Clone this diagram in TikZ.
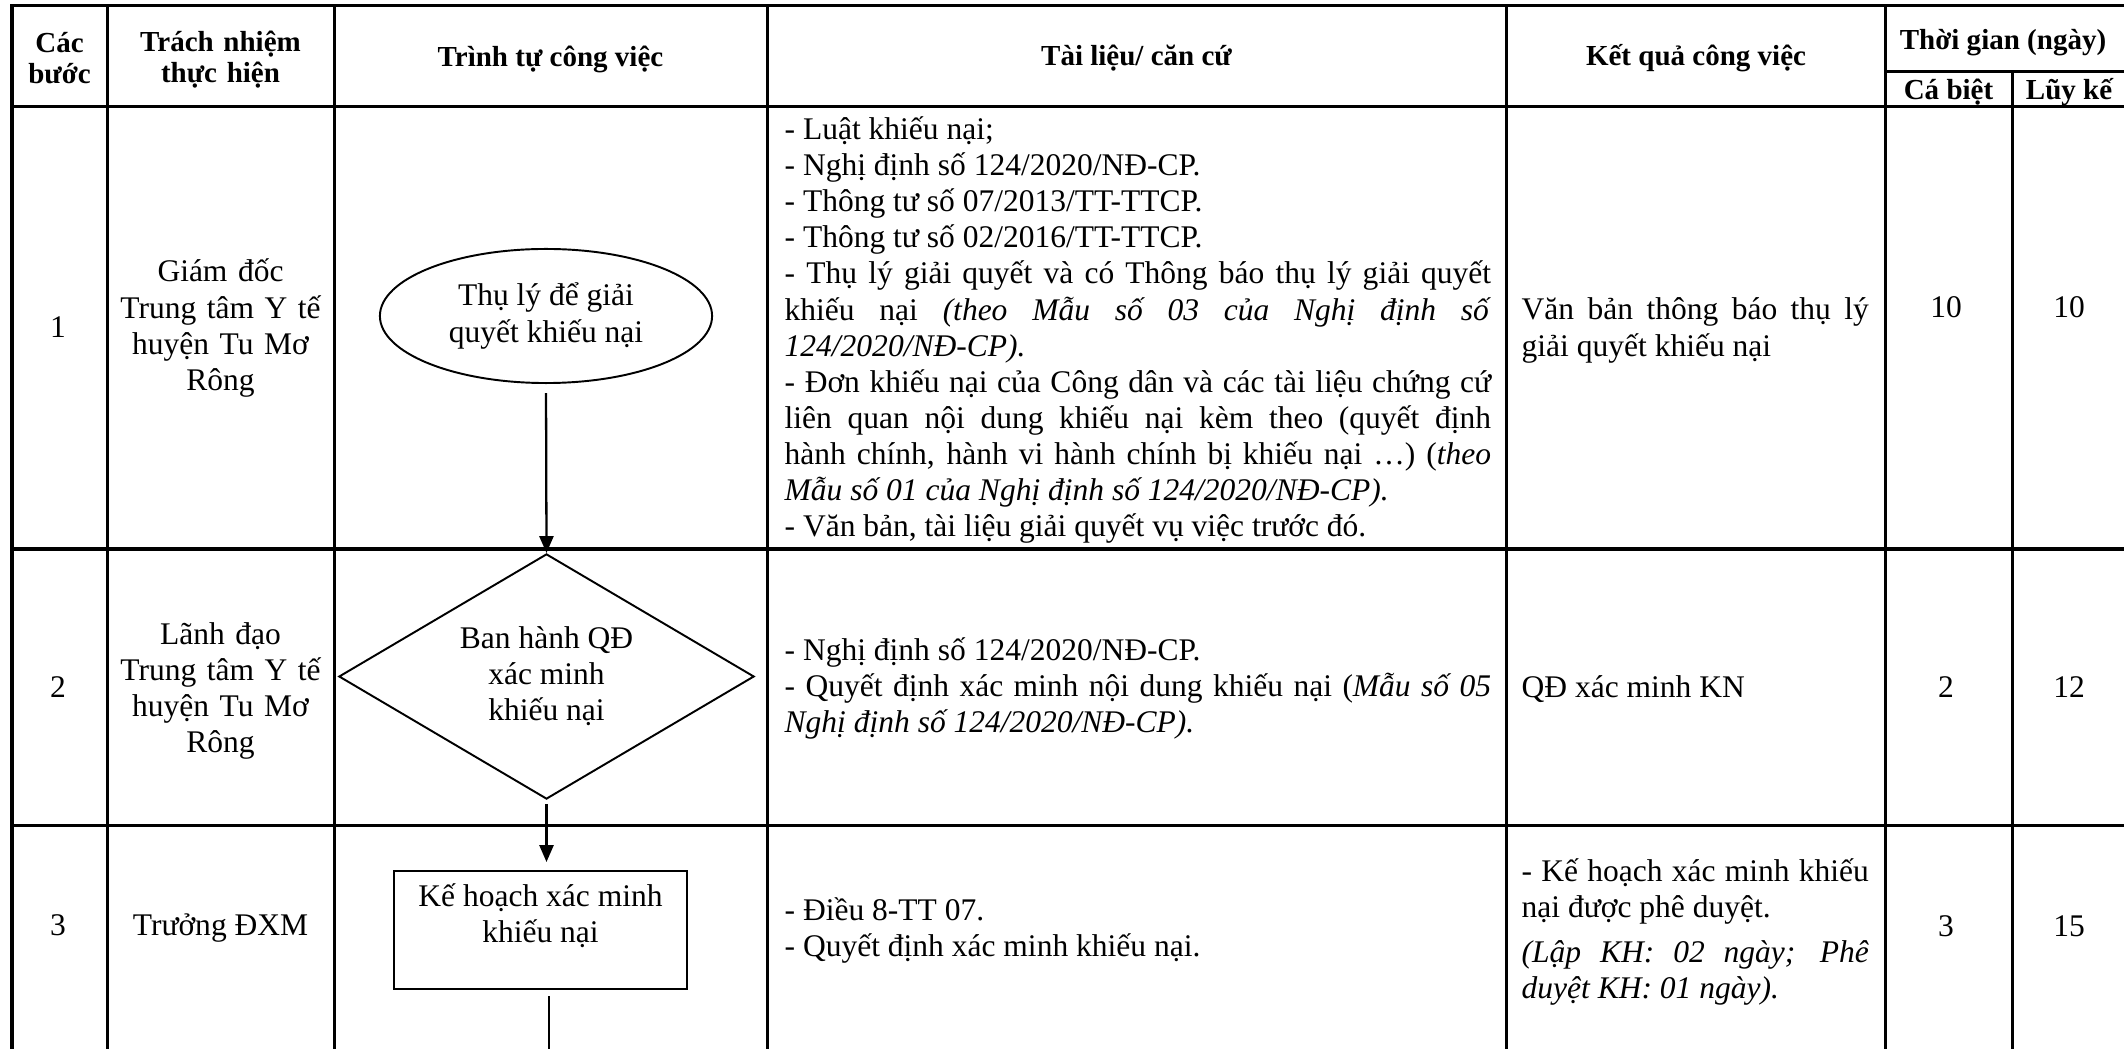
\documentclass[tikz,border=0pt]{standalone}
\usepackage{fontspec}
\setmainfont{Liberation Serif}
\usepackage{tikz}
\usetikzlibrary{
  shapes.geometric,
  arrows.meta
}
\tolerance=9999
\hbadness=10000
\newcommand{\headfont}{\fontsize{8.25pt}{8.8pt}\selectfont\bfseries}
\newcommand{\cellfont}{\fontsize{8.96pt}{10.27pt}\selectfont}
\tikzset{
  gridline/.style={line width=0.3mm, line cap=rect},
  headcell/.style={font=\headfont, inner sep=0pt, align=center, anchor=base},
  bodycell/.style={font=\cellfont, inner sep=0pt, align=center, anchor=base},
  doccell/.style={font=\cellfont, inner sep=0pt, align=justify, anchor=base west},
  shapeline/.style={draw, line width=0.55pt, font=\cellfont, align=center, inner sep=0pt},
  flowline/.style={line width=0.65pt, -{Triangle[length=4.8pt,width=4pt]}}
}

\begin{document}
\begin{tikzpicture}[x=0.01cm, y=-0.01cm]
  \path[use as bounding box, fill=white] (0,0) rectangle (2124,1049);

  % table grid
  \draw[gridline] (12,6) -- (2126,6)
    (12,107) -- (2126,107)
    (12,549) -- (2126,549)
    (12,825) -- (2126,825)
    (1885,72) -- (2126,72);
  \draw[gridline] (12,6) -- (12,1049)
    (107,6) -- (107,1049)
    (334,6) -- (334,1049)
    (767,6) -- (767,1049)
    (1506,6) -- (1506,1049)
    (1885,6) -- (1885,1049)
    (2012,72) -- (2012,1049)
    (2126,6) -- (2126,1049);

  % header
  \node[headcell, text width=0.9cm] (hstep) at (59.5,53) {Các\\bước};
  \node[headcell, text width=2.1cm] (hresp) at (220.5,52) {Trách nhiệm\\thực hiện};
  \node[headcell] (hflow) at (550.5,67) {Trình tự công việc};
  \node[headcell] (hdoc) at (1136.5,66) {Tài liệu/ căn cứ};
  \node[headcell] (hres) at (1696,66) {Kết quả công việc};
  \node[headcell] (htime) at (2003,50) {Thời gian (ngày)};
  \node[headcell] (hsingle) at (1948.5,100) {Cá biệt};
  \node[headcell] (htotal) at (2069,100) {Lũy kế};

  % step numbers and responsibility
  \node[bodycell] (n1) at (58,338) {1};
  \node[bodycell] (n2) at (58,697) {2};
  \node[bodycell] (n3) at (58,935) {3};
  \node[bodycell, text width=2.1cm] (resp1) at (220.5,282) {Giám đốc\\Trung tâm Y tế\\huyện Tu Mơ\\Rông};
  \node[bodycell, text width=2.1cm] (resp2) at (220.5,644) {Lãnh đạo\\Trung tâm Y tế\\huyện Tu Mơ\\Rông};
  \node[bodycell] (resp3) at (220.5,935) {Trưởng ĐXM};

  % flow chart
  \node[shapeline, ellipse, minimum width=3.32cm, minimum height=1.34cm] (accept) at (546,316) {Thụ lý để giải\\quyết khiếu nại};
  \node[shapeline, diamond, aspect=1.7, minimum width=4.15cm, minimum height=2.45cm] (issue) at (546.5,676.5) {Ban hành QĐ\\xác minh\\khiếu nại};
  \node[shapeline, rectangle, minimum width=2.93cm, minimum height=1.18cm] (plan) at (540.5,930) {Kế hoạch xác minh\\khiếu nại\\[-0.02cm]\mbox{}};
  \coordinate (flowend) at (549,1049);
  \draw[flowline, shorten <=0.09cm] (accept.south) -- (issue.north);
  \draw[flowline, shorten <=0.04cm, shorten >=0.08cm] (issue.south) -- (issue.south |- plan.north);
  \draw[line width=0.65pt, shorten <=0.06cm] (flowend |- plan.south) -- (flowend);

  % documents
  \node[doccell, text width=7.06cm] (doc1) at (784,139.5) {- Luật khiếu nại;\\
    - Nghị định số 124/2020/NĐ-CP.\\
    - Thông tư số 07/2013/TT-TTCP.\\
    - Thông tư số 02/2016/TT-TTCP.\\
    - Thụ lý giải quyết và có Thông báo thụ lý giải quyết \linebreak
    khiếu nại \textit{(theo Mẫu số 03 của Nghị định số} \linebreak
    \textit{124/2020/NĐ-CP).}\\
    - Đơn khiếu nại của Công dân và các tài liệu chứng cứ \linebreak
    liên quan nội dung khiếu nại kèm theo (quyết định \linebreak
    hành chính, hành vi hành chính bị khiếu nại …) (\textit{theo} \linebreak
    \textit{Mẫu số 01 của Nghị định số 124/2020/NĐ-CP).}\\
    - Văn bản, tài liệu giải quyết vụ việc trước đó.};
  \node[doccell, text width=7.06cm] (doc2) at (784,660) {- Nghị định số 124/2020/NĐ-CP.\\
    - Quyết định xác minh nội dung khiếu nại (\textit{Mẫu số 05} \linebreak
    \textit{Nghị định số 124/2020/NĐ-CP).}};
  \node[doccell, text width=7.06cm] (doc3) at (784,920) {- Điều 8-TT 07.\\
    - Quyết định xác minh khiếu nại.};

  % results and durations
  \node[doccell, text width=3.47cm] (res1) at (1521,320) {Văn bản thông báo thụ lý \linebreak giải quyết khiếu nại};
  \node[doccell] (res2) at (1521,697) {QĐ xác minh KN};
  \node[doccell, text width=3.47cm] (res3) at (1521,881) {- Kế hoạch xác minh khiếu \linebreak
    nại được phê duyệt.\\[0.09cm]
    \textit{(Lập KH: 02 ngày; Phê \linebreak duyệt KH: 01 ngày).}};
  \node[bodycell] (single1) at (1946,318) {10};
  \node[bodycell] (total1) at (2069,318) {10};
  \node[bodycell] (single2) at (1946,697) {2};
  \node[bodycell] (total2) at (2069,697) {12};
  \node[bodycell] (single3) at (1946,936) {3};
  \node[bodycell] (total3) at (2069,936) {15};
\end{tikzpicture}
\end{document}
